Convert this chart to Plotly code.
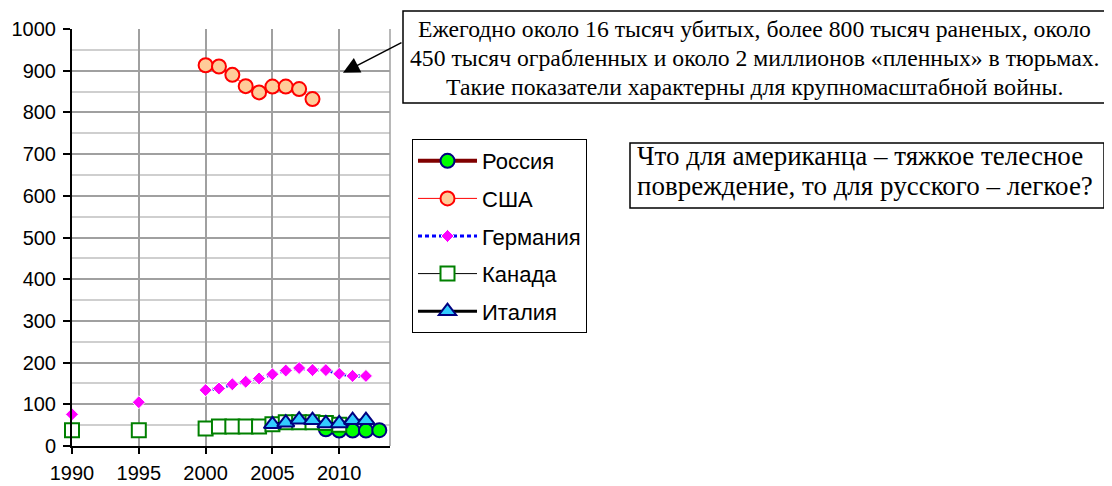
import plotly.graph_objects as go

years = list(range(1990, 2014))

def by_year(d):
    return [d.get(y) for y in years]

russia = by_year({2009: 40, 2010: 37, 2011: 37, 2012: 37, 2013: 38})
usa = by_year({2000: 913, 2001: 910, 2002: 890, 2003: 863, 2004: 848,
               2005: 862, 2006: 862, 2007: 856, 2008: 832})
germany = by_year({1990: 76, 1995: 105, 2000: 134, 2001: 138, 2002: 148, 2003: 154,
                   2004: 162, 2005: 172, 2006: 181, 2007: 187, 2008: 182, 2009: 182,
                   2010: 173, 2011: 168, 2012: 168})
canada = by_year({1990: 38, 1995: 38, 2000: 42, 2001: 47, 2002: 47, 2003: 47, 2004: 47,
                  2005: 52, 2006: 57, 2007: 57, 2008: 57, 2009: 55, 2010: 51})
italy = by_year({2005: 52, 2006: 56, 2007: 63, 2008: 62, 2009: 54, 2010: 54,
                 2011: 62, 2012: 62})

x_ticks = [1990, 1995, 2000, 2005, 2010]
y_ticks = list(range(0, 1001, 100))

note1_lines = ["Ежегодно около 16 тысяч убитых, более 800 тысяч раненых, около",
               "450 тысяч ограбленных и около 2 миллионов «пленных» в тюрьмах.",
               "Такие показатели характерны для крупномасштабной войны."]
note2_lines = ["Что для американца – тяжкое телесное",
               "повреждение, то для русского – легкое?"]

fig = go.Figure()
fig.add_trace(go.Scatter(x=years, y=russia, name="Россия", mode="lines+markers",
                         legendgroup="a",
                         line=dict(color="#800000", width=4),
                         marker=dict(symbol="circle", size=14, color="#00FF00",
                                     line=dict(color="#000080", width=2)),
                         cliponaxis=False))
fig.add_trace(go.Scatter(x=years, y=usa, name="США", mode="lines+markers",
                         legendgroup="b",
                         line=dict(color="#FF0000", width=1),
                         marker=dict(symbol="circle", size=14, color="#FFCC99",
                                     line=dict(color="#FF0000", width=2)),
                         cliponaxis=False))
fig.add_trace(go.Scatter(x=years, y=germany, name="Германия", mode="lines+markers",
                         legendgroup="c",
                         line=dict(color="#0000FF", width=3, dash="4px,3px"),
                         marker=dict(symbol="diamond", size=10, color="#FF00FF",
                                     line=dict(color="#FFFFFF", width=1)),
                         cliponaxis=False))
fig.add_trace(go.Scatter(x=years, y=canada, name="Канада", mode="lines+markers",
                         legendgroup="d",
                         line=dict(color="#000000", width=1),
                         marker=dict(symbol="square", size=14, color="#FFFFFF",
                                     line=dict(color="#008000", width=2)),
                         cliponaxis=False))
fig.add_trace(go.Scatter(x=years, y=italy, name="Италия", mode="lines+markers",
                         legendgroup="e",
                         line=dict(color="#000000", width=3),
                         marker=dict(symbol="triangle-up", size=15, color="#33CCFF",
                                     line=dict(color="#000080", width=2)),
                         cliponaxis=False))

# page is offset by the browser's default 8px body margin
OFF = 8
W, H = 1112 - OFF, 486 - OFF
L, R, T, B = 72, 390, 29, 446   # plot area in page pixels
PW, PH = R - L, B - T

def px(x):
    return (x - L) / PW

def py(y):
    return (B - y) / PH

serif = "Liberation Serif, Times New Roman, serif"

shapes = [
    dict(type="line", xref="paper", yref="paper", x0=1, x1=1, y0=0, y1=1,
         line=dict(color="#A0A0A0", width=1.5)),
    dict(type="rect", xref="paper", yref="paper", x0=px(403), x1=px(1107),
         y0=py(103), y1=py(11), fillcolor="white", line=dict(color="black", width=1.5)),
    dict(type="rect", xref="paper", yref="paper", x0=px(630), x1=px(1104),
         y0=py(208), y1=py(143), fillcolor="white", line=dict(color="black", width=1.5)),
]

annotations = []
for txt, yc in zip(note1_lines, [29.5, 58, 86.5]):
    annotations.append(dict(text=txt, xref="paper", yref="paper", x=px(754), y=py(yc),
                            xanchor="center", yanchor="middle", showarrow=False,
                            font=dict(family=serif, size=23.7, color="black")))
for txt, yc in zip(note2_lines, [156, 186]):
    annotations.append(dict(text=txt, xref="paper", yref="paper", x=px(635), y=py(yc),
                            xanchor="left", yanchor="middle", showarrow=False,
                            font=dict(family=serif, size=27, color="black")))
annotations.append(dict(text="", x=2010.28, y=895, xref="x", yref="y", showarrow=True,
                        ax=60, ay=-31, arrowhead=2, arrowsize=2.2, arrowwidth=1.5,
                        arrowcolor="black", standoff=0))

fig.update_layout(
    width=W, height=H,
    margin=dict(l=L - OFF, r=W - (R - OFF), t=T - OFF, b=H - (B - OFF), pad=0),
    plot_bgcolor="white", paper_bgcolor="white",
    font=dict(family="Arial, Liberation Sans, sans-serif", size=20, color="black"),
    showlegend=True,
    legend=dict(x=px(412), y=py(139), xanchor="left", yanchor="top",
                bgcolor="white", bordercolor="black", borderwidth=1,
                font=dict(size=22), itemwidth=59, tracegroupgap=6,
                itemclick=False),
    xaxis=dict(range=[1990, 2013.8], tickvals=x_ticks, showgrid=True,
               gridcolor="#A0A0A0", gridwidth=1.5, zeroline=False, automargin=False,
               showline=True, linecolor="black", linewidth=2,
               ticks="outside", ticklen=6, tickcolor="black", tickwidth=2,
               ticklabelstandoff=2),
    yaxis=dict(range=[0, 1000], tickvals=y_ticks, showgrid=True,
               gridcolor="#A0A0A0", gridwidth=1.5, zeroline=False, automargin=False,
               showline=True, linecolor="black", linewidth=2,
               ticks="outside", ticklen=7, tickcolor="black", tickwidth=2,
               ticklabelstandoff=3,
               minor=dict(dtick=50, showgrid=True, gridcolor="#CFCFCF", gridwidth=1.5)),
    shapes=shapes,
    annotations=annotations,
)

fig.write_html("out.html")
